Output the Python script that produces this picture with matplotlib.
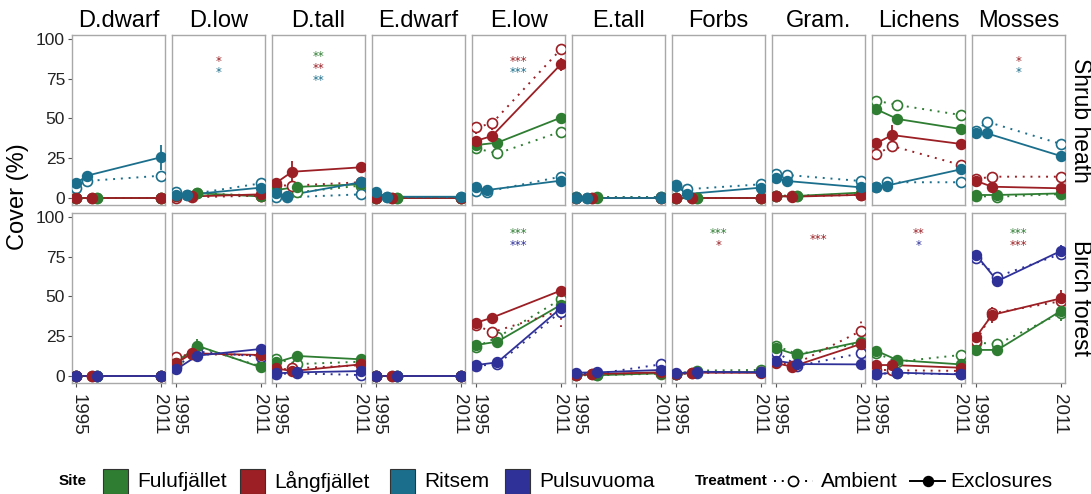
import matplotlib
matplotlib.use("Agg")
import matplotlib.pyplot as plt
from matplotlib.patches import Rectangle
from matplotlib.lines import Line2D
from matplotlib import transforms

plt.rcParams['font.family'] = ['Liberation Sans', 'DejaVu Sans']

# ---------------- data ----------------
GROUPS = ['D.dwarf', 'D.low', 'D.tall', 'E.dwarf', 'E.low', 'E.tall',
          'Forbs', 'Gram.', 'Lichens', 'Mosses']
HABITATS = ['Shrub heath', 'Birch forest']
SITES = ['Fulufjället', 'Långfjället', 'Ritsem', 'Pulsuvuoma']
SITE_COLORS = ['#2e7d32', '#9b1f24', '#1b6f8c', '#2f3199']
HABITAT_SITES = [['Fulufjället', 'Långfjället', 'Ritsem'],
                 ['Fulufjället', 'Långfjället', 'Pulsuvuoma']]
SITE_YEARS = {'Fulufjället': [1995, 1999, 2011],
              'Långfjället': [1995, 1998, 2011],
              'Ritsem': [1995, 1997, 2011],
              'Pulsuvuoma': [1995, 1999, 2011]}
X_TICKS = [1995, 2011]
Y_TICKS = [0, 25, 50, 75, 100]

# rows follow GROUPS, columns follow the three survey years
SH_FUL_EXC = [[0, 0, 0], [1, 3, 1], [5, 7, 8.6], [0, 0, 0], [33.3, 34.8, 50.5],
              [0, 0, 0], [0, 0, 0], [1, 1.3, 3.4], [55.8, 49.7, 43.4], [1.9, 1.9, 2.9]]
SH_FUL_AMB = [[0, 0, 0], [1, 3, 1.5], [2, 3.6, 7.8], [0, 0, 0], [31.2, 28, 41.7],
              [0.5, 0.5, 0.5], [0, 0, 0], [1.5, 1.5, 2.5], [61.2, 58.5, 52.2], [1.2, 0.8, 2.5]]
SH_LAN_EXC = [[0, 0, 0], [1, 1, 2.3], [9.6, 16.5, 19.3], [0, 0, 0], [36, 39, 84],
              [0, 0, 0], [0, 0, 0], [1.3, 0.8, 2], [34.4, 39.6, 34], [10.7, 7.1, 6.1]]
SH_LAN_AMB = [[0, 0, 0], [0.3, 0.5, 1.5], [8, 7.8, 9.9], [0, 0, 0], [44.4, 47, 93.5],
              [0, 0, 0], [0, 0, 0], [1.5, 1, 2], [27.5, 32.7, 20.8], [12, 13.4, 13.4]]
SH_RIT_EXC = [[9.2, 14, 25.6], [2, 2, 6.5], [3, 1.5, 9.9], [3.6, 0.8, 0.8], [6.7, 5, 10.9],
              [0.2, 0.2, 0.2], [7.8, 2.5, 6.5], [12.4, 10.7, 6.7], [7.1, 7.8, 18], [40.7, 40.7, 26.4]]
SH_RIT_AMB = [[6.5, 10.7, 14], [4, 2, 9.2], [0.4, 0.4, 2.3], [2, 0.5, 0.5], [4.4, 4, 13.4],
              [0.5, 0.2, 0.5], [8, 5.5, 8.6], [15, 14.5, 10.7], [7.1, 9.9, 9.9], [42, 48, 34]]
BF_FUL_EXC = [[0, 0, 0], [8, 19, 5.5], [8.6, 12.6, 10.5], [0, 0, 0], [19.5, 21.6, 44.7],
              [1, 0.5, 1.7], [1, 2.5, 2.5], [17.4, 13.2, 21.6], [15.9, 10, 7.3], [16.4, 16.4, 40.9]]
BF_FUL_AMB = [[0, 0, 0], [9, 18.5, 6], [10.7, 7.5, 9], [0, 0, 0], [18.4, 24.3, 48.2],
              [0.5, 0.5, 1.5], [1.5, 3.4, 3.8], [18.9, 13.8, 20.5], [14.3, 9, 13.2], [21, 20.1, 39.4]]
BF_LAN_EXC = [[0, 0, 0], [8, 14.3, 13.2], [4.8, 3.1, 7.3], [0, 0, 0], [33.5, 36.7, 53.7],
              [0.6, 1.3, 2.3], [1.3, 2.1, 2], [8, 5.9, 20.1], [6.9, 6.9, 5.2], [24.7, 38.4, 48.8]]
BF_LAN_AMB = [[0, 0, 0], [12.2, 13.8, 13], [3.8, 4.8, 6.8], [0, 0, 0], [32, 27.5, 41],
              [0.5, 1, 2], [1, 2, 2.5], [9, 6.5, 28.3], [4, 3.6, 3.2], [22, 39.4, 47]]
BF_PUL_EXC = [[0, 0, 0], [4.2, 12.8, 17], [1.7, 2.3, 3.1], [0, 0, 0], [6.9, 8.6, 42.6],
              [2.1, 2.3, 3.8], [1.7, 2.7, 2.3], [9.6, 7.5, 7.3], [1.3, 2.1, 1], [76.1, 59.7, 78.6]]
BF_PUL_AMB = [[0, 0, 0], [5.9, 15.3, 12.2], [1.3, 1.7, 0.6], [0, 0, 0], [6.5, 7.3, 40.5],
              [1.5, 1.5, 7.3], [1.5, 2.2, 2.5], [15.3, 6.3, 14.3], [1.5, 1.7, 1.2], [74, 62.5, 76.7]]

# standard errors
SH_FUL_EXC_SE = [[0, 0, 0], [.5, 1, .5], [1, 1.5, 2], [0, 0, 0], [2, 2, 2],
                 [0, 0, 0], [0, 0, 0], [.5, .5, 1], [2, 2, 2], [.5, .5, .5]]
SH_FUL_AMB_SE = [[0, 0, 0], [.5, 1, .5], [1, 1, 1.5], [0, 0, 0], [2, 2, 4],
                 [0, 0, 0], [0, 0, 0], [.5, .5, 1], [2, 2, 2.5], [.5, .5, .5]]
SH_LAN_EXC_SE = [[0, 0, 0], [.5, .5, 1], [2, 7, 2], [0, 0, 0], [2, 3, 4],
                 [0, 0, 0], [0, 0, 0], [.5, .5, .5], [3, 6, 3], [1.5, 1, 1]]
SH_LAN_AMB_SE = [[0, 0, 0], [.5, .5, .5], [1.5, 2, 1.5], [0, 0, 0], [4, 4, 3],
                 [0, 0, 0], [0, 0, 0], [.5, .5, .5], [3, 3, 2], [1, 2, 1]]
SH_RIT_EXC_SE = [[1, 1.5, 8], [1, 1, 1], [1, 1, 1.5], [.5, .5, .5], [1, 1, 2],
                 [0, 0, 0], [1, 1, 1], [1, 1, 1], [1, 1, 1.5], [3, 3, 1.5]]
SH_RIT_AMB_SE = [[1, 1, 2], [1, 1, 3], [.5, .5, 1], [.5, .5, .5], [1, 1, 2],
                 [0, 0, 0], [1, 1, 1], [1, 1, 1], [1, 1, 1], [2, 2, 1.5]]
BF_FUL_EXC_SE = [[0, 0, 0], [1, 4, 1], [1, 1, 1], [0, 0, 0], [1.5, 1.5, 2],
                 [.5, .5, .5], [.5, .5, .5], [1.5, 1.5, 1.5], [1, 1, 1], [1, 1, 6]]
BF_FUL_AMB_SE = [[0, 0, 0], [1, 3, 1], [1, 1, 1], [0, 0, 0], [1.5, 1.5, 2],
                 [.5, .5, .5], [.5, .5, .5], [1.5, 1.5, 1.5], [1, 1, 1], [1.5, 1.5, 2]]
BF_LAN_EXC_SE = [[0, 0, 0], [1, 3, 1], [1, 1, 1], [0, 0, 0], [2, 3, 2],
                 [.5, .5, .5], [.5, .5, .5], [1, 1, 2], [1, 1, 1], [1.5, 5, 5]]
BF_LAN_AMB_SE = [[0, 0, 0], [1, 1, 1], [1, 1, 1], [0, 0, 0], [2, 2, 10],
                 [.5, .5, .5], [.5, .5, .5], [1, 1, 9], [1, 1, 1], [1.5, 2, 2]]
BF_PUL_EXC_SE = [[0, 0, 0], [1, 1, 3], [.5, .5, .5], [0, 0, 0], [1, 1, 2],
                 [.5, .5, .5], [.5, .5, .5], [1, 1, 1], [.5, .5, .5], [2, 1.5, 4]]
BF_PUL_AMB_SE = [[0, 0, 0], [1, 1, 1], [.5, .5, .5], [0, 0, 0], [1, 1, 3],
                 [.5, .5, .5], [.5, .5, .5], [1, 1, 1], [.5, .5, .5], [2, 1.5, 2]]

# significance annotations
STAR_HABITAT = [0, 0, 0, 0, 0, 0, 0, 0, 0,
                1, 1, 1, 1, 1, 1, 1, 1, 1]
STAR_GROUP = ['D.low', 'D.low', 'D.tall', 'D.tall', 'D.tall', 'E.low', 'E.low', 'Mosses', 'Mosses',
              'E.low', 'E.low', 'Forbs', 'Forbs', 'Gram.', 'Lichens', 'Lichens', 'Mosses', 'Mosses']
STAR_TEXT = ['*', '*', '**', '**', '**', '***', '***', '*', '*',
             '***', '***', '***', '*', '***', '**', '*', '***', '***']
STAR_SITE = ['Långfjället', 'Ritsem', 'Fulufjället', 'Långfjället', 'Ritsem',
             'Långfjället', 'Ritsem', 'Långfjället', 'Ritsem',
             'Fulufjället', 'Pulsuvuoma', 'Fulufjället', 'Långfjället', 'Långfjället',
             'Långfjället', 'Pulsuvuoma', 'Fulufjället', 'Långfjället']
STAR_Y = [88, 80.5, 91, 83.5, 76, 88, 80.5, 88, 80.5,
          91.4, 83.9, 91.4, 83.9, 87.6, 91.4, 83.9, 91.4, 83.9]
STAR_X = 2003

SERIES = {
    (0, 'Fulufjället'): (SH_FUL_EXC, SH_FUL_EXC_SE, SH_FUL_AMB, SH_FUL_AMB_SE),
    (0, 'Långfjället'): (SH_LAN_EXC, SH_LAN_EXC_SE, SH_LAN_AMB, SH_LAN_AMB_SE),
    (0, 'Ritsem'): (SH_RIT_EXC, SH_RIT_EXC_SE, SH_RIT_AMB, SH_RIT_AMB_SE),
    (1, 'Fulufjället'): (BF_FUL_EXC, BF_FUL_EXC_SE, BF_FUL_AMB, BF_FUL_AMB_SE),
    (1, 'Långfjället'): (BF_LAN_EXC, BF_LAN_EXC_SE, BF_LAN_AMB, BF_LAN_AMB_SE),
    (1, 'Pulsuvuoma'): (BF_PUL_EXC, BF_PUL_EXC_SE, BF_PUL_AMB, BF_PUL_AMB_SE),
}
COLOR = dict(zip(SITES, SITE_COLORS))

# ---------------- layout ----------------
W, H = 1091, 494
fig = plt.figure(figsize=(W / 100, H / 100), dpi=100)


def fx(x):
    return x / W


def fy(y):
    return 1 - y / H


PANEL_L0, PANEL_STEP, PANEL_W, PANEL_H = 72, 100, 93, 170
ROW_TOP = [35, 213]
DOT = (0, (1, 3))
BORDER = '#a8a8a8'
MS = 7.2
STAR_FS = 8.5
XLABEL_SHIFT_PX = [1.5, -1.0]   # nudge 1995 right / 2011 left so neighbours don't collide

bottom_axes = []
for r, hab in enumerate(HABITATS):
    for c, grp in enumerate(GROUPS):
        left = PANEL_L0 + PANEL_STEP * c
        top = ROW_TOP[r]
        ax = fig.add_axes([fx(left), fy(top + PANEL_H), PANEL_W / W, PANEL_H / H])
        ax.set_xlim(1994.2, 2011.8)
        ax.set_ylim(-4.4, 102.5)
        for sp in ax.spines.values():
            sp.set_color(BORDER)
            sp.set_linewidth(1.0)

        for site in HABITAT_SITES[r]:
            exc, exc_se, amb, amb_se = SERIES[(r, site)]
            yrs = SITE_YEARS[site]
            col = COLOR[site]
            e, es = exc[c], exc_se[c]
            a, as_ = amb[c], amb_se[c]
            ax.vlines(yrs, [v - s for v, s in zip(a, as_)], [v + s for v, s in zip(a, as_)],
                      colors=col, linestyles=[DOT], lw=1.3, zorder=2)
            ax.vlines(yrs, [v - s for v, s in zip(e, es)], [v + s for v, s in zip(e, es)],
                      colors=col, lw=1.3, zorder=2)
            ax.plot(yrs, a, color=col, ls=DOT, lw=1.4, zorder=2.1)
            ax.plot(yrs, e, color=col, ls='-', lw=1.3, zorder=2.1)
            ax.plot(yrs, a, ls='none', marker='o', ms=MS, mfc='white', mec=col, mew=1.2, zorder=3)
            ax.plot(yrs, e, ls='none', marker='o', ms=MS, mfc=col, mec=col, mew=1.0, zorder=3.1)

        # significance stars
        for h, g, t, s, yv in zip(STAR_HABITAT, STAR_GROUP, STAR_TEXT, STAR_SITE, STAR_Y):
            if h == r and g == grp:
                tr = transforms.offset_copy(ax.transData, fig=fig, x=0,
                                            y=-0.55 * STAR_FS, units='points')
                ax.text(STAR_X, yv, t, color=COLOR[s], fontsize=STAR_FS,
                        family='DejaVu Sans', ha='center', va='baseline',
                        transform=tr, zorder=4)

        ax.tick_params(axis='both', which='both', direction='out', length=3,
                       width=0.8, color='#555555', labelcolor='#222222')
        if c == 0:
            ax.set_yticks(Y_TICKS)
            ax.set_yticklabels([str(v) for v in Y_TICKS], fontsize=12.5)
            ax.tick_params(axis='y', pad=2)
        else:
            ax.set_yticks([])
        if r == 1:
            ax.set_xticks(X_TICKS)
            ax.set_xticklabels([str(v) for v in X_TICKS], rotation=-90,
                               ha='center', va='top', fontsize=13.5)
            ax.tick_params(axis='x', pad=5)
            bottom_axes.append(ax)
        else:
            ax.set_xticks([])
        if r == 0:
            ax.set_title(grp, fontsize=17, pad=5.5)
        if c == len(GROUPS) - 1:
            ax.text(1.0 + 4 / PANEL_W, 0.5, hab, transform=ax.transAxes, rotation=-90,
                    ha='left', va='center', fontsize=16.5)

# nudge rotated year labels apart
for ax in bottom_axes:
    for lab, dx in zip(ax.get_xticklabels(), XLABEL_SHIFT_PX):
        lab.set_transform(lab.get_transform() +
                          transforms.ScaledTranslation(dx / 100, 0, fig.dpi_scale_trans))

fig.text(fx(18), fy(197), 'Cover (%)', rotation=90, ha='center', va='center', fontsize=17)

# ---------------- legend ----------------
LEG_Y = 481
fig.text(fx(59), fy(LEG_Y), 'Site', fontweight='bold', fontsize=11, ha='left', va='center')
for site, sx in zip(SITES, [103, 240, 390, 505]):
    fig.patches.append(Rectangle((fx(sx), fy(LEG_Y + 12.5)), 25 / W, 25 / H,
                                 transform=fig.transFigure, facecolor=COLOR[site],
                                 edgecolor='#333333', lw=0.8))
    fig.text(fx(sx + 34), fy(LEG_Y), site, fontsize=15, ha='left', va='center')

fig.text(fx(695), fy(LEG_Y), 'Treatment', fontweight='bold', fontsize=11, ha='left', va='center')
fig.add_artist(Line2D([fx(774), fx(813)], [fy(LEG_Y), fy(LEG_Y)], color='black', ls=DOT, lw=1.4))
fig.add_artist(Line2D([fx(793)], [fy(LEG_Y)], ls='none', marker='o', ms=MS, mfc='white',
                      mec='black', mew=1.2))
fig.text(fx(821), fy(LEG_Y), 'Ambient', fontsize=15, ha='left', va='center')
fig.add_artist(Line2D([fx(910), fx(945)], [fy(LEG_Y), fy(LEG_Y)], color='black', ls='-', lw=1.4))
fig.add_artist(Line2D([fx(928)], [fy(LEG_Y)], ls='none', marker='o', ms=MS, mfc='black',
                      mec='black'))
fig.text(fx(950), fy(LEG_Y), 'Exclosures', fontsize=15, ha='left', va='center')

fig.savefig('out.png', dpi=100)
